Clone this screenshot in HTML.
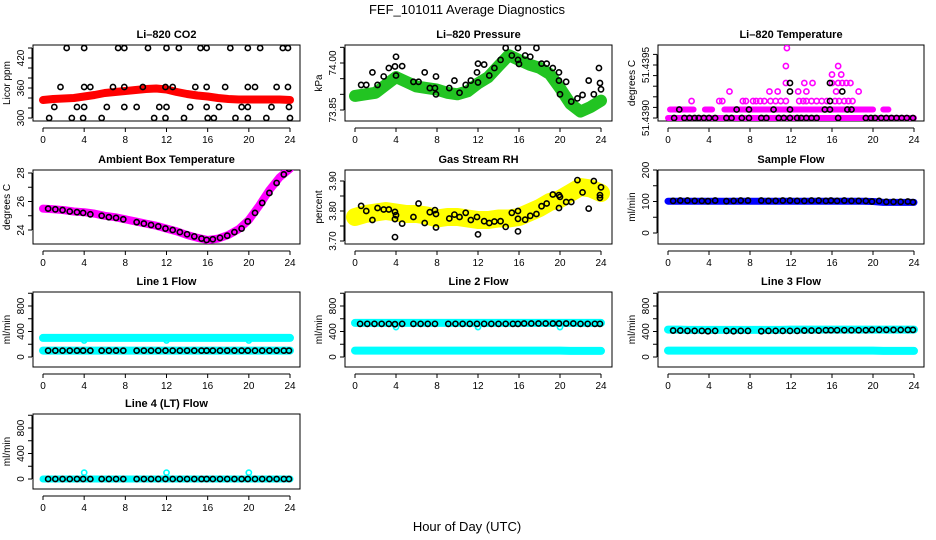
<!DOCTYPE html>
<html><head><meta charset="utf-8"><style>
html,body{margin:0;padding:0;background:#fff;}
svg{display:block;font-family:"Liberation Sans",sans-serif;}
</style></head><body>
<svg id="c" width="936" height="540" viewBox="0 0 936 540">
<text x="467" y="14" text-anchor="middle" font-size="13">FEF_101011  Average Diagnostics</text>
<text x="467" y="531" text-anchor="middle" font-size="13">Hour of Day (UTC)</text>
</svg>
<script>
const HOURS=[0,1,2,3,4,5,6,7,8,9,10,11,12,13,14,15,16,17,18,19,20,21,22,23,24];
const T34=[0.5,1.2,1.9,2.6,3.3,3.9,4.6,5.7,6.4,7.1,7.8,9.1,9.8,10.5,11.2,11.9,12.6,13.3,14.0,14.7,15.4,15.9,16.5,17.2,17.9,18.6,19.3,19.9,20.6,21.3,22.0,22.7,23.4,23.9];
const X_TICKS=[0,4,8,12,16,20,24];
// CO2
const co2Band=[336,338,339,340,343,346,350,352,354,356,358,359,357,352,348,345,343,340,338,337,337,337,337,337,336];
const co2Hours=[2.3,4.0,7.3,7.9,10.2,12.0,13.2,15.3,15.9,18.2,19.9,21.1,23.3,23.8,1.7,4.0,4.6,6.8,7.9,9.7,11.9,12.6,14.8,15.9,17.7,19.9,20.6,22.7,23.8,1.1,3.3,4.0,6.2,7.9,9.1,11.3,12.0,14.3,15.9,17.1,19.3,19.9,22.2,23.9,0.6,2.8,3.9,5.7,10.8,11.9,13.7,16.0,16.6,18.7,19.9,21.7,24.0];
const co2Vals=[440,440,440,440,440,440,440,440,440,440,440,440,440,440,362,362,362,362,362,362,362,362,362,362,362,362,362,362,362,322,322,322,322,322,322,322,322,322,322,322,322,322,322,322,300,300,300,300,300,300,300,300,300,300,300,300,300];
// Pressure
const presBand=[73.895,73.90,73.905,73.93,73.955,73.94,73.925,73.92,73.915,73.905,73.90,73.91,73.935,73.955,73.99,74.025,74.01,73.995,73.985,73.965,73.92,73.87,73.845,73.86,73.88];
const presHours=[0.6,1.1,1.7,2.2,2.8,3.3,3.9,4.0,4.0,4.6,5.7,6.2,6.8,7.3,7.8,7.9,7.9,9.2,9.7,10.2,10.8,11.3,11.9,12.0,12.0,12.6,13.1,13.6,14.2,14.7,15.3,15.9,15.9,16.0,16.6,17.1,17.7,18.2,18.7,19.3,19.9,19.9,20.0,20.6,21.1,21.7,22.2,22.8,23.3,23.8,23.9,24.0];
const presVals=[73.93,73.93,73.97,73.93,73.957,73.984,73.989,74.02,73.96,73.99,73.94,73.94,73.97,73.92,73.92,73.957,73.90,73.92,73.944,73.905,73.93,73.944,73.97,73.998,73.938,73.995,73.96,73.984,74.01,74.048,74.024,74.048,74.01,73.997,74.024,74.02,74.048,73.998,73.998,73.984,73.97,73.944,73.90,73.94,73.877,73.887,73.898,73.944,73.90,73.984,73.936,73.916];
// Li-820 temperature
const ltLevel0Span=[0,24];
const ltLevel1Spans=[[0.2,2.5],[3.6,4.3],[5.5,6.5],[7.0,20.0],[21.0,21.5]];
const ltMagHours=[2.3,5.0,5.3,7.3,7.6,8.3,8.6,9.0,9.4,10.0,10.5,11.0,11.5,12.8,13.2,13.5,14.0,14.5,15.0,15.5,16.3,16.7,17.2,17.6,18.0,6.0,9.9,10.7,12.7,13.5,16.4,18.6,11.5,13.3,14.1,16.0,16.6,17.0,17.4,17.8,16.0,16.9,11.5,16.6,11.6];
const ltMagVals=[51.43916,51.43916,51.43916,51.43916,51.43916,51.43916,51.43916,51.43916,51.43916,51.43916,51.43916,51.43916,51.43916,51.43916,51.43916,51.43916,51.43916,51.43916,51.43916,51.43916,51.43916,51.43916,51.43916,51.43916,51.43916,51.43925,51.43925,51.43925,51.43925,51.43925,51.43925,51.43925,51.43933,51.43933,51.43933,51.43933,51.43933,51.43933,51.43933,51.43933,51.43941,51.43941,51.43949,51.43949,51.43966];
const ltBlkHours=[0.6,1.6,2.1,2.6,3.0,3.5,4.0,4.6,5.7,6.2,7.2,7.9,9.1,9.6,10.8,11.3,11.9,12.6,13.0,13.5,14.0,14.5,16.6,19.3,19.8,20.2,20.8,21.3,21.8,22.3,22.8,23.3,23.9,1.1,6.7,7.9,10.3,11.9,15.3,15.8,17.5,17.9,15.8,11.9,17.0,11.9,15.8];
const ltBlkVals=[51.4390,51.4390,51.4390,51.4390,51.4390,51.4390,51.4390,51.4390,51.4390,51.4390,51.4390,51.4390,51.4390,51.4390,51.4390,51.4390,51.4390,51.4390,51.4390,51.4390,51.4390,51.4390,51.4390,51.4390,51.4390,51.4390,51.4390,51.4390,51.4390,51.4390,51.4390,51.4390,51.4390,51.43908,51.43908,51.43908,51.43908,51.43908,51.43908,51.43908,51.43908,51.43908,51.43916,51.43925,51.43925,51.43933,51.43933];
// Ambient
const ambBand=[25.5,25.45,25.4,25.3,25.25,25.15,25.0,24.9,24.75,24.6,24.45,24.3,24.1,23.9,23.65,23.45,23.3,23.4,23.65,24.05,24.7,25.7,26.8,27.7,28.3];
const ambBlk=[25.5,25.45,25.4,25.3,25.25,25.2,25.1,25.0,24.9,24.85,24.75,24.55,24.45,24.35,24.25,24.1,24.0,23.85,23.7,23.55,23.4,23.3,23.35,23.45,23.6,23.85,24.1,24.6,25.2,25.9,26.6,27.3,27.9,28.3];
// RH
const rhBand=[3.78,3.79,3.795,3.80,3.795,3.79,3.79,3.785,3.775,3.78,3.78,3.775,3.77,3.77,3.775,3.775,3.78,3.795,3.81,3.83,3.84,3.86,3.88,3.875,3.86];
const rhHours=[0.6,1.1,1.7,2.2,2.8,3.3,3.9,4.0,3.9,3.9,4.6,5.7,6.2,6.8,7.3,7.8,7.9,7.9,9.2,9.7,10.2,10.8,11.3,11.9,12.0,12.6,13.1,13.6,14.2,14.7,15.3,15.9,15.9,15.9,16.6,17.1,17.7,18.2,18.7,19.3,19.9,19.9,20.0,20.6,21.1,21.7,22.2,22.8,23.3,24.0,23.9,23.9];
const rhVals=[3.817,3.80,3.77,3.81,3.805,3.805,3.797,3.786,3.773,3.713,3.758,3.78,3.825,3.76,3.796,3.803,3.79,3.745,3.775,3.788,3.78,3.794,3.77,3.78,3.722,3.766,3.76,3.765,3.766,3.747,3.794,3.80,3.774,3.732,3.771,3.784,3.79,3.816,3.825,3.855,3.853,3.81,3.847,3.83,3.83,3.903,3.862,3.808,3.90,3.879,3.853,3.844];
// Sample flow
const sfBand=[101,101,101,101,101,101,101,101,101,101,101,101,101,101,101,101,101,101,101,101,100,97,97,97,97];
const sfBlk=[102,103,103,102,102,101,103,101,102,103,103,103,102,102,103,103,102,102,103,103,102,103,102,103,102,102,102,100,102,99,99,99,100,98];
// Line flows
const l1Upper=[300,300,300,300,300,300,300,300,300,300,300,300,300,300,300,300,300,300,300,300,300,300,300,300,300];
const l1Lower=[100,100,100,100,100,100,100,100,100,100,100,100,100,100,100,100,100,100,100,100,100,100,100,100,100];
const l1Blk=[100,100,100,100,100,100,100,100,100,100,100,100,100,100,100,100,100,100,100,100,100,100,100,100,100,100,100,100,100,100,100,100,100,100];
const l2Upper=[535,535,535,535,535,535,535,535,535,535,535,535,535,535,535,535,535,535,535,535,535,535,535,535,535];
const l2Lower=[100,100,100,100,100,100,100,100,100,100,100,100,100,100,100,100,100,100,100,100,100,95,95,95,95];
const l2Blk=[520,520,520,520,520,515,520,520,520,520,520,520,520,520,520,520,520,520,520,520,520,520,525,525,525,525,525,525,525,525,520,520,520,520];
const l3Upper=[430,430,425,425,425,425,425,425,425,425,425,425,430,430,430,430,430,430,430,430,430,430,430,430,430];
const l3Lower=[100,100,100,100,100,100,100,100,100,100,100,100,100,100,100,100,100,100,100,100,100,95,95,95,95];
const l3Blk=[415,415,410,410,410,405,410,410,405,410,410,405,410,410,410,410,410,415,415,415,420,420,420,420,420,420,420,425,425,425,425,425,425,425];
const l4Band=[0,0,0,0,0,0,0,0,0,0,0,0,0,0,0,0,0,0,0,0,0,0,0,0,0];
const l4Blk=[0,0,0,0,0,0,0,0,0,0,0,0,0,0,0,0,0,0,0,0,0,0,0,0,0,0,0,0,0,0,0,0,0,0];
const flowDipHours=[4,12,20];
const l1Dip=[260,260,260];
const l2Dip=[470,470,470];
const l4Spike=[100,100,100];

const NS='http://www.w3.org/2000/svg';
const svg=document.getElementById('c');
function mk(tag,attrs,parent){const e=document.createElementNS(NS,tag);for(const k in attrs)e.setAttribute(k,attrs[k]);(parent||svg).appendChild(e);return e;}
const COLS=[{L:33,R:300,x0:43,x24:290},{L:345,R:612,x0:355,x24:601},{L:658,R:924,x0:668,x24:914}];
const ROWS=[{T:45,B:121},{T:170,B:244},{T:292,B:367},{T:414,B:489}];

function panel(ci,ri,name,title,ylabel,yv1,yp1,yv2,yp2,yticks,ylabels){
  const c=COLS[ci],r=ROWS[ri];
  const g=mk('g',{});
  
  
  const xs=h=>c.x0+(c.x24-c.x0)*h/24;
  const ys=v=>yp1+(v-yv1)*(yp2-yp1)/(yv2-yv1);
  const t=mk('text',{x:(c.L+c.R)/2,y:r.T-7,'text-anchor':'middle','font-size':11,'font-weight':'bold'},g);t.textContent=title;
  
  
  const box=mk('rect',{x:c.L,y:r.T,width:c.R-c.L,height:r.B-r.T,fill:'none',stroke:'#000','stroke-width':1},g);
  
  
  const ax=mk('g',{},g);
  
  
  const ya=r.B+7;
  mk('line',{x1:xs(0),x2:xs(24),y1:ya,y2:ya,stroke:'#000'},ax);
  X_TICKS.forEach(h=>{mk('line',{x1:xs(h),x2:xs(h),y1:ya,y2:ya+4,stroke:'#000'},ax);
    const tl=mk('text',{x:xs(h),y:ya+15,'text-anchor':'middle','font-size':10},ax);tl.textContent=h;});
  const ay=mk('g',{},g);
  
  
  const xa=c.L-1;
  mk('line',{x1:xa,x2:xa,y1:ys(yticks[0]),y2:ys(yticks[yticks.length-1]),stroke:'#000'},ay);
  yticks.forEach(v=>mk('line',{x1:xa-4,x2:xa,y1:ys(v),y2:ys(v),stroke:'#000'},ay));
  ylabels.forEach(l=>{const tl=mk('text',{x:0,y:0,'text-anchor':'middle','font-size':10,transform:`translate(${xa-8},${ys(l.v)}) rotate(-90)`},ay);tl.textContent=l.t;});
  const yl=mk('text',{'text-anchor':'middle','font-size':10,transform:`translate(${c.L-23},${(r.T+r.B)/2}) rotate(-90)`},g);yl.textContent=ylabel;
  
  
  const clipId='clip'+ci+ri;
  const cp=mk('clipPath',{id:clipId},g);mk('rect',{x:c.L,y:r.T,width:c.R-c.L,height:r.B-r.T},cp);
  const dg=mk('g',{'clip-path':`url(#${clipId})`},g);
  return {xs,ys,dg};
}
function band(p,hours,vals,color,w,name){
  const d=hours.map((h,i)=>(i?'L':'M')+p.xs(h).toFixed(1)+' '+p.ys(vals[i]).toFixed(1)).join(' ');
  const e=mk('path',{d,fill:'none',stroke:color,'stroke-width':w,'stroke-linejoin':'round','stroke-linecap':'round'},p.dg);
  
  
}
function pts(p,hours,vals,color,name,r){
  hours.forEach((h,i)=>{const e=mk('circle',{cx:p.xs(h),cy:p.ys(vals[i]),r:r||2.6,fill:'none',stroke:color,'stroke-width':1.6},p.dg);
    
    });
}
const GREEN='#22c422',MAG='#ff00ff',CYAN='#00ffff',BLUE='#0000ff',YEL='#ffff00',RED='#ff0000';
let p=panel(0,0,'co2','Li\u2013820 CO2','Licor ppm',300,118,440,48,[300,320,340,360,380,400,420,440],[{v:300,t:'300'},{v:360,t:'360'},{v:420,t:'420'}]);
band(p,HOURS,co2Band,RED,8,'co2-red-band');
pts(p,co2Hours,co2Vals,'#000','co2-point');
p=panel(1,0,'pressure','Li\u2013820 Pressure','kPa',73.85,110,74.00,63,[73.85,73.90,73.95,74.00,74.05],[{v:73.85,t:'73.85'},{v:74.00,t:'74.00'}]);
band(p,HOURS,presBand,GREEN,12,'pressure-green-band');
pts(p,presHours,presVals,'#000','pressure-point');
p=panel(2,0,'li-temperature','Li\u2013820 Temperature','degrees C',51.4390,118,51.4395,65,[51.4390,51.4391,51.4392,51.4393,51.4394,51.4395,51.4396],[{v:51.4390,t:'51.4390'},{v:51.4395,t:'51.4395'}]);
band(p,ltLevel0Span,[51.4390,51.4390],MAG,6,'li-temp-level0-band');
ltLevel1Spans.forEach(s=>band(p,s,[51.43908,51.43908],MAG,6,'li-temp-level1-band'));
pts(p,ltMagHours,ltMagVals,MAG,'li-temp-magenta-point');
pts(p,ltBlkHours,ltBlkVals,'#000','li-temp-point');
p=panel(0,1,'ambient-temp','Ambient Box Temperature','degrees C',24,230,28,173,[24,25,26,27,28],[{v:24,t:'24'},{v:26,t:'26'},{v:28,t:'28'}]);
band(p,HOURS,ambBand,MAG,8,'ambient-magenta-band');
pts(p,T34,ambBlk,'#000','ambient-point');
p=panel(1,1,'gas-rh','Gas Stream RH','percent',3.70,241,3.90,181,[3.70,3.75,3.80,3.85,3.90],[{v:3.70,t:'3.70'},{v:3.80,t:'3.80'},{v:3.90,t:'3.90'}]);
band(p,HOURS,rhBand,YEL,18,'rh-yellow-band');
pts(p,rhHours,rhVals,'#000','rh-point');
p=panel(2,1,'sample-flow','Sample Flow','ml/min',0,233,200,170,[0,50,100,150,200],[{v:0,t:'0'},{v:100,t:'100'},{v:200,t:'200'}]);
band(p,HOURS,sfBand,BLUE,7,'sample-flow-blue-band');
pts(p,T34,sfBlk,'#000','sample-flow-point');
const FT=[0,200,400,600,800,1000],FL=[{v:0,t:'0'},{v:400,t:'400'},{v:800,t:'800'}];
p=panel(0,2,'line1-flow','Line 1 Flow','ml/min',0,357,800,306,FT,FL);
band(p,HOURS,l1Upper,CYAN,8,'line1-upper-band');band(p,HOURS,l1Lower,CYAN,8,'line1-lower-band');
pts(p,flowDipHours,l1Dip,CYAN,'line1-dip-point');
pts(p,T34,l1Blk,'#000','line1-point');
p=panel(1,2,'line2-flow','Line 2 Flow','ml/min',0,357,800,306,FT,FL);
band(p,HOURS,l2Upper,CYAN,8,'line2-upper-band');band(p,HOURS,l2Lower,CYAN,8,'line2-lower-band');
pts(p,flowDipHours,l2Dip,CYAN,'line2-dip-point');
pts(p,T34,l2Blk,'#000','line2-point');
p=panel(2,2,'line3-flow','Line 3 Flow','ml/min',0,357,800,306,FT,FL);
band(p,HOURS,l3Upper,CYAN,8,'line3-upper-band');band(p,HOURS,l3Lower,CYAN,8,'line3-lower-band');
pts(p,T34,l3Blk,'#000','line3-point');
p=panel(0,3,'line4-flow','Line 4 (LT) Flow','ml/min',0,479,800,428,FT,FL);
band(p,HOURS,l4Band,CYAN,7,'line4-band');
pts(p,flowDipHours,l4Spike,CYAN,'line4-spike-point');
pts(p,T34,l4Blk,'#000','line4-point');
</script>
</body></html>
